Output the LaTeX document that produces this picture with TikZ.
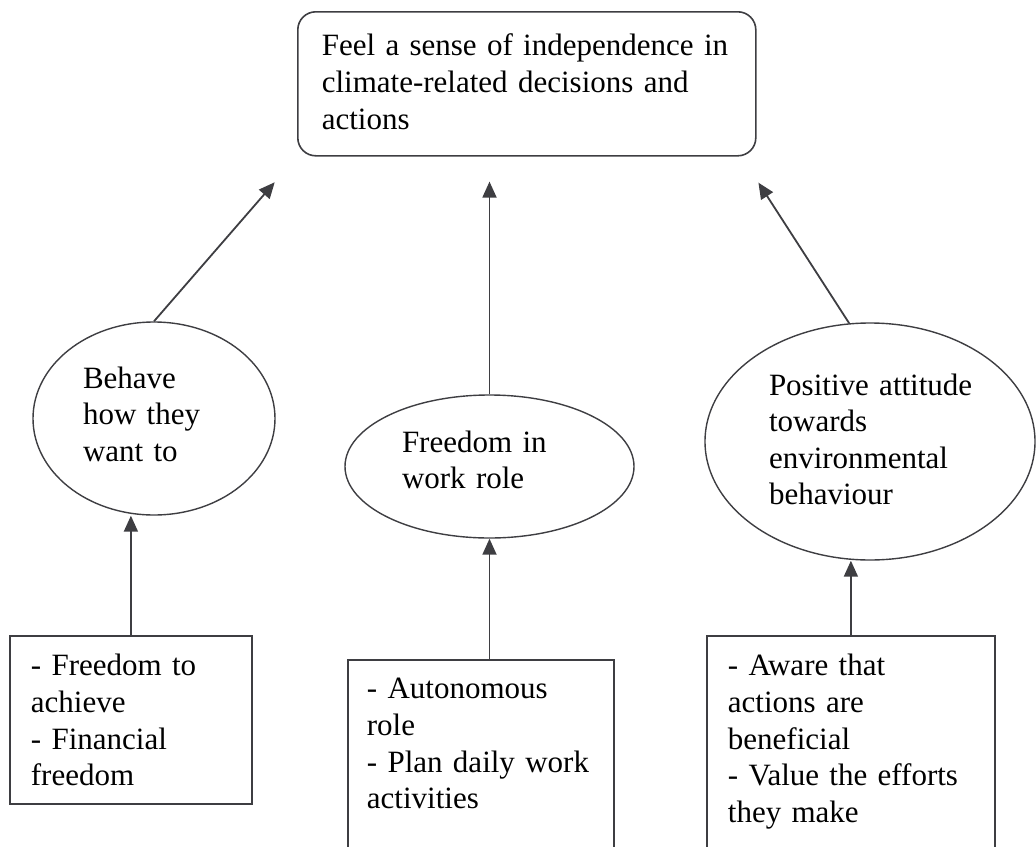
\documentclass[tikz,border=0pt]{standalone}
\usepackage{fontspec}
\setmainfont{Liberation Serif}
\usepackage{xcolor}
\usepackage{tikz}
\usetikzlibrary{arrows.meta,shapes.geometric,positioning}
\definecolor{linegray}{RGB}{62,62,66}

\begin{document}
\begin{tikzpicture}[x=1pt, y=-1pt, >={Triangle[length=16pt,width=14pt]},
    txt/.style={font=\fontsize{31}{36.6}\selectfont, align=left, execute at begin node={\hyphenpenalty=10000\exhyphenpenalty=10000}},
    goal/.style={txt, draw=linegray, line width=1.6pt, rounded corners=18pt, anchor=north west, inner xsep=24pt, inner ysep=0pt},
    oval/.style={txt, ellipse, draw=linegray, line width=1.4pt, inner sep=0pt, text height=22pt},
    itembox/.style={txt, draw=linegray, line width=1.8pt, anchor=north west, inner ysep=0pt},
    arr/.style={->, draw=linegray, line width=1.8pt}]
    \useasboundingbox (0,0) rectangle (1036,846);

    \node[goal, text width=410pt, text height=44pt, text depth=100pt] (top) at (297,11) {Feel a sense of independence in\\ climate-related decisions and\\ actions};

    \node[oval, minimum width=242pt, minimum height=193pt, text width=142pt, text depth=83pt] (behave) at (154,418.5) {Behave\\ how they\\ want to};
    \node[oval, minimum width=289pt, minimum height=143pt, text width=175pt, text depth=51pt] (freedom) at (489.5,466.5) {Freedom in\\ work role};
    \node[oval, minimum width=330pt, minimum height=237pt, text width=202pt, text depth=115pt] (attitude) at (870,441.5) {Positive~attitude\\ towards\\ environmental\\ behaviour};

    \node[itembox, inner xsep=21pt, text width=200pt, text height=40pt, text depth=128pt] (achieve) at (9,635) {- Freedom to\\ achieve\\ - Financial\\ freedom};
    \node[itembox, inner xsep=19pt, text width=228pt, text height=39pt, text depth=200pt] (role) at (347,659) {- Autonomous\\ role\\ - Plan daily work\\ activities};
    \node[itembox, inner xsep=21pt, text width=246pt, text height=40pt, text depth=220pt] (aware) at (706,635) {- Aware that\\ actions are\\ beneficial\\ - Value the efforts\\ they make};

    \draw[arr, shorten >=34pt] (behave.north) -- (top.south west);
    \draw[arr, shorten >=25pt] (freedom.north) -- (freedom.north |- top.south);
    \draw[arr, shorten >=31pt] (attitude.100) -- ([xshift=-15pt]top.south east);

    \draw[arr] (achieve.north) -- (achieve.north |- behave.south);
    \draw[arr] (freedom.south |- role.north) -- (freedom.south);
    \draw[arr] (aware.north) -- (aware.north |- attitude.south);
\end{tikzpicture}
\end{document}
